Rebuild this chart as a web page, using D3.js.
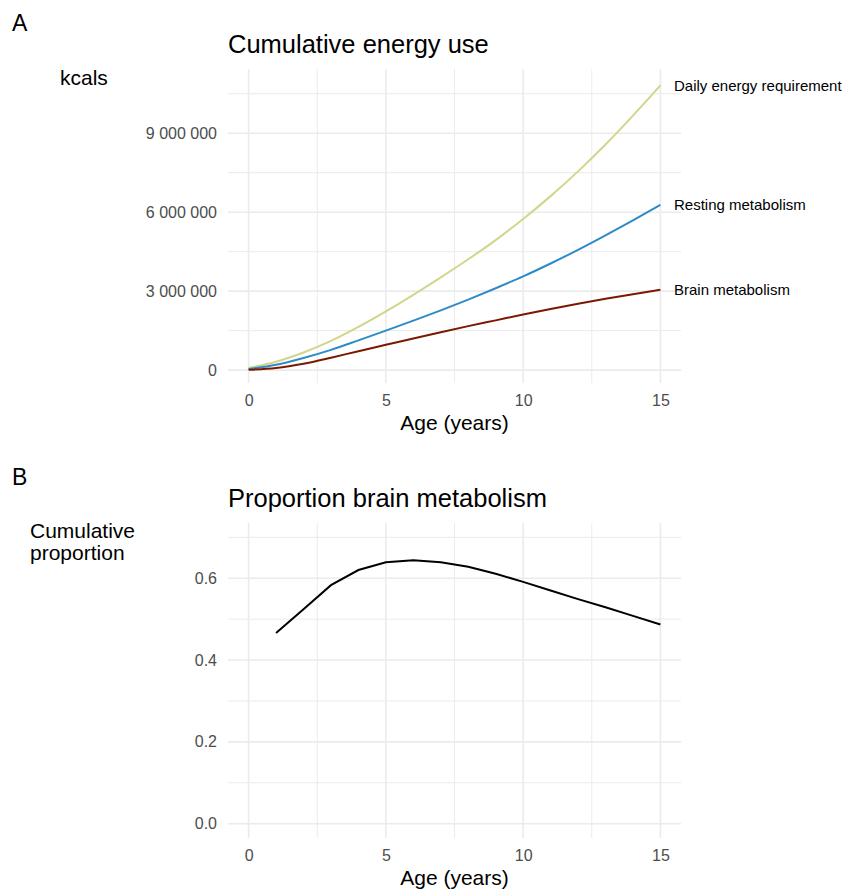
<!DOCTYPE html>
<html>
<head>
<meta charset="utf-8">
<script src="https://cdn.jsdelivr.net/npm/d3@7"></script>
<style>
  body { margin: 0; background: #fff; }
  svg { display: block; font-family: "Liberation Sans", Arial, sans-serif; }
</style>
</head>
<body>
<svg id="chart" width="845" height="889"></svg>
<script>
// ---- Data ----
const ages = [0, 1, 2, 3, 4, 5, 6, 7, 8, 9, 10, 11, 12, 13, 14, 15];
const dailyRequirement = [0.08, 0.32, 0.67, 1.11, 1.64, 2.23, 2.86, 3.52, 4.21, 4.94, 5.74, 6.61, 7.55, 8.57, 9.67, 10.82].map(v => v * 1e6);
const restingMetabolism = [0.04, 0.20, 0.46, 0.77, 1.13, 1.50, 1.88, 2.27, 2.68, 3.11, 3.56, 4.05, 4.57, 5.12, 5.69, 6.28].map(v => v * 1e6);
const brainMetabolism = [0.01, 0.08, 0.24, 0.47, 0.72, 0.96, 1.20, 1.44, 1.67, 1.89, 2.11, 2.32, 2.52, 2.71, 2.885, 3.05].map(v => v * 1e6);
const seriesNames = ["Daily energy requirement", "Resting metabolism", "Brain metabolism"];
const seriesColors = ["#d3d58c", "#2e8bc7", "#7b1800"];

const propAges = [1, 2, 3, 4, 5, 6, 7, 8, 9, 10, 11, 12, 13, 14, 15];
const propBrain = [0.466, 0.524, 0.583, 0.620, 0.639, 0.644, 0.639, 0.628, 0.611, 0.591, 0.570, 0.549, 0.529, 0.508, 0.487];

const xTicks = [0, 5, 10, 15];
const xMinor = [2.5, 7.5, 12.5];
const yTicksA = [0, 3e6, 6e6, 9e6];
const yMinorA = [1.5e6, 4.5e6, 7.5e6, 10.5e6];
const yTicksB = [0, 0.2, 0.4, 0.6];
const yMinorB = [0.1, 0.3, 0.5, 0.7];

// ---- Setup ----
const svg = d3.select("#chart");
const FONT = '"Liberation Sans", Arial, sans-serif';
const grid = "#ebebeb";
const tickCol = "#4d4d4d";
const spaceFmt = d3.formatLocale({decimal: ".", thousands: " ", grouping: [3], currency: ["", ""]}).format(",");

function panel(cfg) {
  const g = svg.append("g");
  const x = d3.scaleLinear().domain([-0.75, 15.75]).range([228, 681]);
  const y = d3.scaleLinear().domain(cfg.yDomain).range([cfg.bottom, cfg.top]);

  // grid
  const gg = g.append("g");
  cfg.yMinor.forEach(v => gg.append("line").attr("x1", 228).attr("x2", 681)
    .attr("y1", y(v)).attr("y2", y(v)).attr("stroke", grid).attr("stroke-width", 1));
  xMinor.forEach(v => gg.append("line").attr("x1", x(v)).attr("x2", x(v))
    .attr("y1", cfg.top).attr("y2", cfg.bottom).attr("stroke", grid).attr("stroke-width", 1));
  cfg.yTicks.forEach(v => gg.append("line").attr("x1", 228).attr("x2", 681)
    .attr("y1", y(v)).attr("y2", y(v)).attr("stroke", grid).attr("stroke-width", 1.6));
  xTicks.forEach(v => gg.append("line").attr("x1", x(v)).attr("x2", x(v))
    .attr("y1", cfg.top).attr("y2", cfg.bottom).attr("stroke", grid).attr("stroke-width", 1.6));

  // y axis labels via d3 axis
  const yAxis = d3.axisLeft(y).tickValues(cfg.yTicks).tickFormat(cfg.yFmt).tickSize(0).tickPadding(11);
  const ya = g.append("g").attr("transform", "translate(228,0)").call(yAxis);
  ya.select(".domain").remove();
  ya.selectAll("text").attr("fill", tickCol).style("font-size", "16px").style("font-family", FONT);

  const xAxis = d3.axisBottom(x).tickValues(xTicks).tickFormat(d3.format("d")).tickSize(0).tickPadding(0);
  const xa = g.append("g").attr("transform", `translate(0,${cfg.bottom})`).call(xAxis);
  xa.select(".domain").remove();
  xa.selectAll("text").attr("fill", tickCol).style("font-size", "16px").style("font-family", FONT)
    .attr("dy", null).attr("y", 23);

  // texts
  g.append("text").attr("x", 12).attr("y", cfg.top - 38).text(cfg.letter)
    .style("font-size", "23px").attr("fill", "#000");
  g.append("text").attr("x", 228).attr("y", cfg.top - 16).text(cfg.title)
    .style("font-size", "25.5px").attr("fill", "#000");
  cfg.yTitle.forEach((t, i) => g.append("text").attr("x", cfg.yTitleX).attr("y", cfg.yTitleY + i * 22)
    .text(t).style("font-size", "21px").attr("fill", "#000"));
  g.append("text").attr("x", 454.5).attr("y", cfg.bottom + 47).attr("text-anchor", "middle")
    .text("Age (years)").style("font-size", "21px").attr("fill", "#000");
  return {g, x, y};
}

// ---- Panel A ----
const A = panel({
  top: 69, bottom: 383, yDomain: [-0.49e6, 11.44e6],
  yTicks: yTicksA, yMinor: yMinorA, yFmt: spaceFmt,
  letter: "A", title: "Cumulative energy use",
  yTitle: ["kcals"], yTitleX: 60, yTitleY: 85
});
const seriesA = [dailyRequirement, restingMetabolism, brainMetabolism];
const lineA = d3.line().x((d, i) => A.x(ages[i])).y(d => A.y(d)).curve(d3.curveMonotoneX);
seriesA.forEach((s, k) => {
  A.g.append("path").datum(s).attr("d", lineA).attr("fill", "none")
    .attr("stroke", seriesColors[k]).attr("stroke-width", 2);
  A.g.append("text").attr("x", 674).attr("y", A.y(s[s.length - 1])).attr("dy", "0.35em")
    .text(seriesNames[k]).style("font-size", "15px").attr("fill", "#000");
});

// ---- Panel B ----
const B = panel({
  top: 523, bottom: 838, yDomain: [-0.035, 0.735],
  yTicks: yTicksB, yMinor: yMinorB, yFmt: d3.format(".1f"),
  letter: "B", title: "Proportion brain metabolism",
  yTitle: ["Cumulative", "proportion"], yTitleX: 30, yTitleY: 538
});
const lineB = d3.line().x((d, i) => B.x(propAges[i])).y(d => B.y(d));
B.g.append("path").datum(propBrain).attr("d", lineB).attr("fill", "none")
  .attr("stroke", "#000").attr("stroke-width", 2);
</script>
</body>
</html>
